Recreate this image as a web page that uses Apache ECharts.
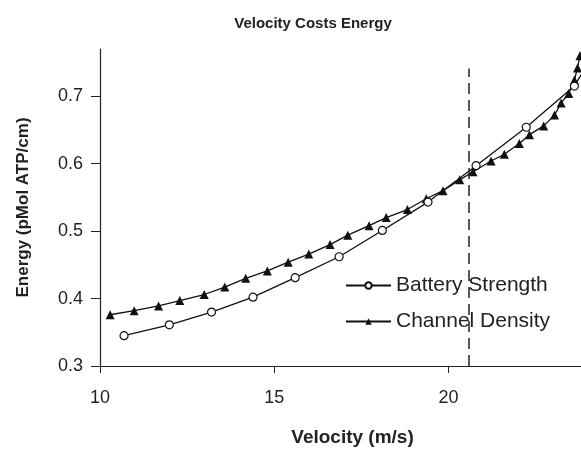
<!DOCTYPE html>
<html>
<head>
<meta charset="utf-8">
<script src="https://cdn.jsdelivr.net/npm/echarts@6/dist/echarts.min.js"></script>
<style>
  html, body { margin: 0; padding: 0; background: #fff; }
  #chart { width: 581px; height: 452px; }
</style>
</head>
<body>
<div id="chart"></div>
<script>
(function () {

    var batteryX = [10.69, 11.99, 13.2, 14.39, 15.6, 16.86, 18.1, 19.41, 20.79, 22.23, 23.61, 24.6];
    var batteryY = [0.345, 0.361, 0.380, 0.402, 0.431, 0.462, 0.501, 0.543, 0.597, 0.654, 0.715, 0.80];

    var channelX = [10.29, 10.98, 11.68, 12.29, 12.99, 13.58, 14.18, 14.8, 15.4, 15.99, 16.6,
                    17.11, 17.72, 18.21, 18.82, 19.36, 19.84, 20.32, 20.7, 21.22, 21.6, 22.03,
                    22.32, 22.73, 23.04, 23.23, 23.45, 23.61, 23.7, 23.77];
    var channelY = [0.376, 0.382, 0.389, 0.397, 0.406, 0.417, 0.430, 0.441, 0.454, 0.466, 0.480,
                    0.494, 0.508, 0.520, 0.532, 0.548, 0.560, 0.576, 0.588, 0.604, 0.614, 0.630,
                    0.643, 0.656, 0.672, 0.690, 0.704, 0.724, 0.742, 0.760];

    var xTicks = [10, 15, 20];
    var yTicks = [0.3, 0.4, 0.5, 0.6, 0.7];
    var dividerX = 20.59;
    var dividerTop = 0.741;

    var FONT = '"Liberation Sans", Arial, sans-serif';

    function _pairs(xs, ys){
      return xs.map(function(x, i){ return [x, ys[i]]; });
    }

    var chart = echarts.init(document.getElementById('chart'), null, {renderer: 'canvas'});

    var opt = {
      animation: false,
      backgroundColor: '#fff',
      textStyle: {fontFamily: FONT, color: '#222'},
      title: {
        text: 'Velocity Costs Energy',
        left: 308,
        textAlign: 'center',
        top: 11,
        textStyle: {fontFamily: FONT, fontSize: 15, fontWeight: 'bold', color: '#222'}
      },
      grid: {left: 100, right: 0, top: 49, bottom: 80, containLabel: false},
      legend: {
        orient: 'vertical',
        left: 340,
        top: 271,
        backgroundColor: '#fff',
        padding: [4, 6, 6, 5],
        itemWidth: 45,
        itemHeight: 8,
        itemGap: 15,
        textStyle: {fontFamily: FONT, fontSize: 21, color: '#222', padding: [0, 0, 0, 0]},
        data: ['Battery Strength', 'Channel Density']
      },
      xAxis: {
        type: 'value',
        min: 10,
        max: 23.8,
        interval: 5,
        name: 'Velocity (m/s)',
        nameLocation: 'middle',
        nameGap: 62,
        nameTextStyle: {fontFamily: FONT, fontSize: 19, fontWeight: 'bold', color: '#222', padding: [0, 0, 0, 24]},
        axisLine: {show: true, lineStyle: {color: '#222', width: 1.2}},
        axisTick: {show: true, length: 7, customValues: xTicks, lineStyle: {color: '#222'}},
        axisLabel: {fontFamily: FONT, fontSize: 18, color: '#222', margin: 23, customValues: xTicks},
        splitLine: {show: false}
      },
      yAxis: {
        type: 'value',
        min: 0.3,
        max: 0.77,
        interval: 0.1,
        name: 'Energy (pMol ATP/cm)',
        nameLocation: 'middle',
        nameGap: 68,
        nameTextStyle: {fontFamily: FONT, fontSize: 17, fontWeight: 'bold', color: '#222'},
        axisLine: {show: true, lineStyle: {color: '#222', width: 1.2}},
        axisTick: {show: true, length: 9, customValues: yTicks, lineStyle: {color: '#222'}},
        axisLabel: {fontFamily: FONT, fontSize: 18, color: '#222', margin: 17, customValues: yTicks,
          formatter: function(v){ return v.toFixed(1); }},
        splitLine: {show: false}
      },
      series: [{
        name: 'Battery Strength',
        type: 'line',
        data: _pairs(batteryX, batteryY),
        symbol: 'circle',
        symbolSize: 8,
        showAllSymbol: true,
        clip: true,
        lineStyle: {color: '#111', width: 1.3},
        itemStyle: {color: '#fff', borderColor: '#111', borderWidth: 1.2},
        z: 3,
        markLine: {
          silent: true,
          symbol: 'none',
          label: {show: false},
          lineStyle: {color: '#222', width: 1.5, type: [11, 6]},
          data: [[{coord: [dividerX, 0.3]}, {coord: [dividerX, dividerTop]}]]
        }
      },{
        name: 'Channel Density',
        type: 'line',
        data: _pairs(channelX, channelY),
        symbol: 'triangle',
        symbolSize: 9,
        showAllSymbol: true,
        clip: true,
        lineStyle: {color: '#111', width: 1.3},
        itemStyle: {color: '#111', borderColor: '#111', borderWidth: 0},
        z: 2
      }]
    };

    chart.setOption(opt);
 })();
</script>
</body>
</html>
